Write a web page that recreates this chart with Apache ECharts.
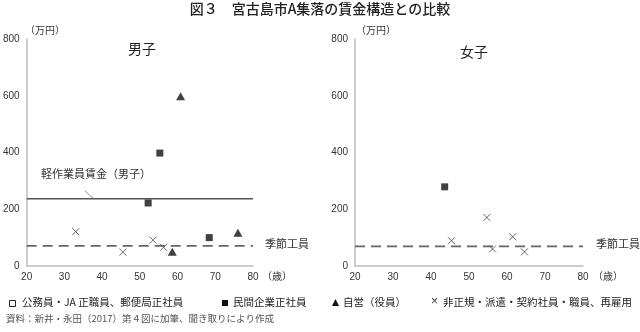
<!DOCTYPE html>
<html><head><meta charset="utf-8">
<script src="https://cdn.jsdelivr.net/npm/echarts@6/dist/echarts.min.js"></script>
<style>html,body{margin:0;padding:0;background:#fff}#c{width:640px;height:332px}</style>
</head><body><div id="c"></div>
<script>
// ---- data ----
const xTicks = [20, 30, 40, 50, 60, 70, 80];
const yTicks = [0, 200, 400, 600, 800];
// 男子
const maleCompany = [[55.3, 398], [52.2, 222], [68.4, 100]];
const maleSelf = [[60.8, 598], [58.6, 50], [76, 117]];
const maleIrregular = [[33, 121], [45.5, 49], [53.5, 91], [56.3, 66]];
const maleLightWork = [[20, 237], [80, 237]];
const maleSeasonal = [[20, 71], [80, 71]];
// 女子
const femaleCompany = [[43.6, 279]];
const femaleIrregular = [[54.7, 171], [45.4, 89], [61.5, 103], [56.2, 60], [64.6, 50]];
const femaleSeasonal = [[20, 69], [80, 69]];

const JP = '"Noto Sans CJK JP", "Noto Sans", sans-serif';
const LAT = '"Liberation Sans", Arial, sans-serif';
const chart = echarts.init(document.getElementById('c'), null, {renderer: 'canvas'});
const crossPath = 'path://M0,0L10,10M10,0L0,10';

function xAxis(gi) {
  return {
    type: 'value', gridIndex: gi, min: xTicks[0], max: xTicks[xTicks.length - 1], interval: 10,
    axisLine: {show: true, lineStyle: {color: '#bdbdbd', width: 1.5}},
    axisTick: {show: false}, splitLine: {show: false},
    axisLabel: {color: '#333', fontSize: 10, fontFamily: LAT, margin: 6}
  };
}
function yAxis(gi) {
  return {
    type: 'value', gridIndex: gi, min: yTicks[0], max: yTicks[yTicks.length - 1], interval: 200,
    axisLine: {show: true, lineStyle: {color: '#bdbdbd', width: 1.5}},
    axisTick: {show: false}, splitLine: {show: false},
    axisLabel: {color: '#333', fontSize: 10, fontFamily: LAT, margin: 7}
  };
}
function sq(data, gi) {
  return {type: 'scatter', xAxisIndex: gi, yAxisIndex: gi, data, symbol: 'rect', symbolSize: 7,
    itemStyle: {color: '#111'}, silent: true};
}
function tri(data, gi) {
  return {type: 'scatter', xAxisIndex: gi, yAxisIndex: gi, data, symbol: 'triangle', symbolSize: [9, 8],
    itemStyle: {color: '#111'}, silent: true};
}
function cross(data, gi) {
  return {type: 'scatter', xAxisIndex: gi, yAxisIndex: gi, data, symbol: crossPath, symbolSize: 7,
    itemStyle: {color: 'rgba(0,0,0,0)', borderColor: '#444', borderWidth: 1}, silent: true};
}
function hline(data, gi, dashed) {
  return {type: 'line', xAxisIndex: gi, yAxisIndex: gi, data, symbol: 'none', silent: true,
    lineStyle: {color: dashed ? '#666' : '#555', width: 1.6, type: dashed ? [10, 6] : 'solid'}, z: 1};
}
const LF = '10.5px ' + JP;

chart.setOption({
  animation: false,
  grid: [
    {left: 24, top: 39, width: 229, height: 227},
    {left: 355, top: 39, width: 228, height: 227}
  ],
  xAxis: [xAxis(0), xAxis(1)],
  yAxis: [yAxis(0), yAxis(1)],
  series: [
    hline(maleLightWork, 0, false),
    hline(maleSeasonal, 0, true),
    sq(maleCompany, 0), tri(maleSelf, 0), cross(maleIrregular, 0),
    hline(femaleSeasonal, 1, true),
    sq(femaleCompany, 1), cross(femaleIrregular, 1)
  ],
  graphic: [
    {type: 'text', left: 'center', top: 2, style: {text: '図３　宮古島市A集落の賃金構造との比較', font: '500 14px ' + JP, fill: '#222'}},
    {type: 'text', x: 25, y: 25, style: {text: '（万円）', font: '10px ' + JP, fill: '#333'}},
    {type: 'text', x: 356, y: 25, style: {text: '（万円）', font: '10px ' + JP, fill: '#333'}},
    {type: 'text', x: 128, y: 42, style: {text: '男子', font: '14px ' + JP, fill: '#222'}},
    {type: 'text', x: 460, y: 45, style: {text: '女子', font: '14px ' + JP, fill: '#222'}},
    {type: 'text', x: 41, y: 168, style: {text: '軽作業員賃金（男子）', font: '11px ' + JP, fill: '#333'}},
    {type: 'line', shape: {x1: 85, y1: 191, x2: 94, y2: 199}, style: {stroke: '#777', lineWidth: 0.8}},
    {type: 'text', x: 265, y: 238, style: {text: '季節工員', font: '11px ' + JP, fill: '#333'}},
    {type: 'text', x: 596, y: 238, style: {text: '季節工員', font: '11px ' + JP, fill: '#333'}},
    {type: 'text', x: 262, y: 271, style: {text: '（歳）', font: '10px ' + JP, fill: '#333'}},
    {type: 'text', x: 593, y: 271, style: {text: '（歳）', font: '10px ' + JP, fill: '#333'}},
    // legend
    {type: 'rect', shape: {x: 9.5, y: 300.5, width: 6, height: 6}, style: {fill: '#fff', stroke: '#222', lineWidth: 1}},
    {type: 'text', x: 22, y: 297, style: {text: '公務員・JA 正職員、郵便局正社員', font: LF, fill: '#222'}},
    {type: 'rect', shape: {x: 222, y: 300, width: 6, height: 6}, style: {fill: '#111'}},
    {type: 'text', x: 233, y: 297, style: {text: '民間企業正社員', font: LF, fill: '#222'}},
    {type: 'polygon', shape: {points: [[335.5, 299], [332, 306], [339, 306]]}, style: {fill: '#111'}},
    {type: 'text', x: 343, y: 297, style: {text: '自営（役員）', font: LF, fill: '#222'}},
    {type: 'text', x: 431, y: 296, style: {text: '×', font: '12px ' + LAT, fill: '#333'}},
    {type: 'text', x: 443, y: 297, style: {text: '非正規・派遣・契約社員・職員、再雇用', font: LF, fill: '#222'}},
    {type: 'text', x: 6, y: 314, style: {text: '資料：新井・永田（2017）第４図に加筆、聞き取りにより作成', font: '9.5px ' + JP, fill: '#555'}}
  ]
});
</script></body></html>
